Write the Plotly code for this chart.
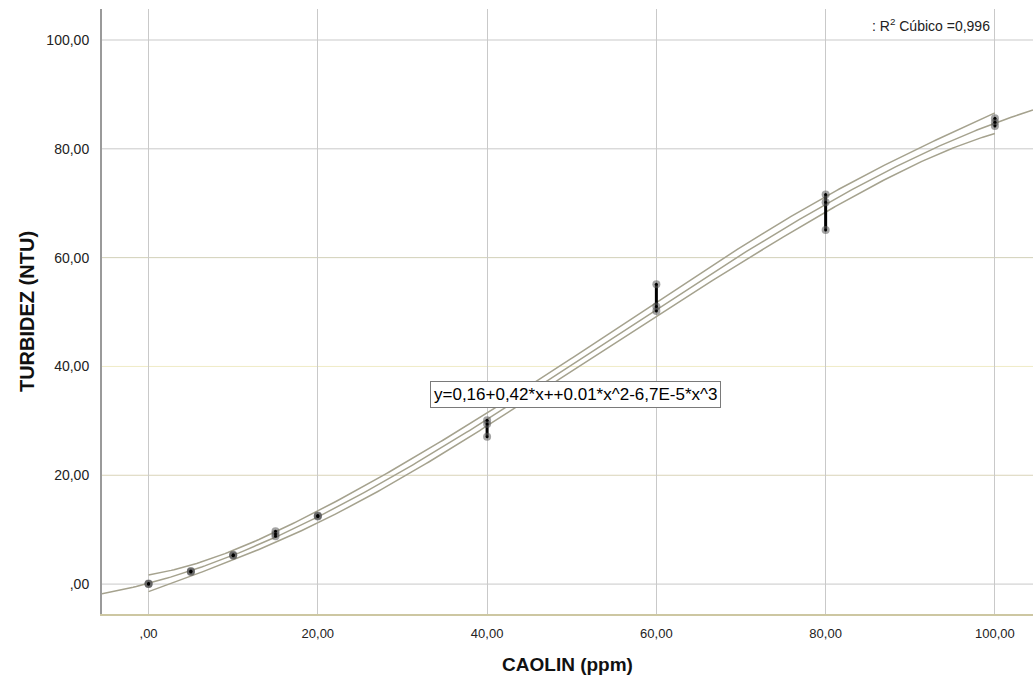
import numpy as np
import plotly.graph_objects as go

# Replicate turbidity readings at each kaolin concentration
caolin_ppm = [0, 0, 0, 5, 5, 5, 10, 10, 10, 15, 15, 15, 20, 20, 20,
              40, 40, 40, 60, 60, 60, 80, 80, 80, 100, 100, 100]
turbidez_ntu = [0.0, 0.1, 0.0, 2.3, 2.4, 2.2, 5.3, 5.4, 5.2, 9.7, 9.2, 8.8,
                12.4, 12.6, 12.5, 30.1, 29.4, 27.1, 55.1, 51.0, 50.2,
                71.6, 70.2, 65.1, 85.6, 84.9, 84.2]

x_tick_vals = [0, 20, 40, 60, 80, 100]
x_tick_text = [",00", "20,00", "40,00", "60,00", "80,00", "100,00"]
y_tick_vals = [0, 20, 40, 60, 80, 100]
y_tick_text = [",00", "20,00", "40,00", "60,00", "80,00", "100,00"]
y_grid_colors = ["#c9c9c9", "#d9d3b8", "#f0ebc6", "#d2d0b8", "#c9c9c9", "#c9c9c9"]

equation_text = "y=0,16+0,42*x++0.01*x^2-6,7E-5*x^3"
r2_text = ": R<sup>2</sup> Cúbico =0,996"

x_range = [-5.5, 104.5]
y_range = [-5.5, 105.7]
t_crit = 2.069  # t(0.975, df=23)

# Cubic least-squares fit and 95% confidence band for the mean
x = np.array(caolin_ppm, dtype=float)
y = np.array(turbidez_ntu, dtype=float)
X = np.vander(x, 4, increasing=True)
beta, *_ = np.linalg.lstsq(X, y, rcond=None)
resid = y - X @ beta
s2 = resid @ resid / (len(x) - 4)
cov = s2 * np.linalg.inv(X.T @ X)

xf = np.linspace(x_range[0], x_range[1], 300)
yf = np.vander(xf, 4, increasing=True) @ beta

xb = np.linspace(x.min(), x.max(), 300)
Xb = np.vander(xb, 4, increasing=True)
yb = Xb @ beta
se = np.sqrt(np.einsum("ij,jk,ik->i", Xb, cov, Xb))
upper = yb + t_crit * se
lower = yb - t_crit * se

line_col = "#a5a28e"
fig = go.Figure()
fig.add_trace(go.Scatter(x=xb, y=upper, mode="lines", line=dict(color=line_col, width=1.5), hoverinfo="skip"))
fig.add_trace(go.Scatter(x=xb, y=lower, mode="lines", line=dict(color=line_col, width=1.5), hoverinfo="skip"))
fig.add_trace(go.Scatter(x=xf, y=yf, mode="lines", line=dict(color=line_col, width=1.5), hoverinfo="skip"))

# Vertical bars spanning replicates at each concentration
bx, by = [], []
for lvl in sorted(set(caolin_ppm)):
    vals = [v for c, v in zip(caolin_ppm, turbidez_ntu) if c == lvl]
    bx += [lvl, lvl, None]
    by += [min(vals), max(vals), None]
fig.add_trace(go.Scatter(x=bx, y=by, mode="lines", line=dict(color="black", width=3), hoverinfo="skip"))

fig.add_trace(go.Scatter(x=caolin_ppm, y=turbidez_ntu, mode="markers",
                         marker=dict(size=8, color="rgba(90,90,90,0.55)", line=dict(width=0))))
fig.add_trace(go.Scatter(x=caolin_ppm, y=turbidez_ntu, mode="markers",
                         marker=dict(size=3, color="black", line=dict(width=0))))

for val, col in zip(y_tick_vals, y_grid_colors):
    fig.add_shape(type="line", xref="paper", x0=0, x1=1, yref="y", y0=val, y1=val,
                  line=dict(color=col, width=1), layer="below")

fig.add_annotation(x=50.4, y=34.9, text=equation_text, showarrow=False,
                   font=dict(family="Liberation Sans, Arial", size=17, color="black"),
                   bgcolor="white", bordercolor="#7a7a7a", borderwidth=1, borderpad=3)
fig.add_annotation(x=99.6, y=102.8, text=r2_text, showarrow=False, xanchor="right",
                   font=dict(family="Liberation Sans, Arial", size=14, color="#222"))

title_font = "Liberation Sans Narrow, Arial Narrow, Liberation Sans, Arial"
fig.update_layout(
    width=1033, height=683,
    margin=dict(l=102, r=0, t=9, b=69),
    paper_bgcolor="white", plot_bgcolor="white",
    showlegend=False,
    xaxis=dict(range=x_range, tickvals=x_tick_vals, ticktext=x_tick_text,
               showgrid=True, gridcolor="#c9c9c9", gridwidth=1, zeroline=False,
               showline=True, linecolor="#cdc7a2", linewidth=2,
               ticks="", ticklen=0, ticklabelstandoff=6,
               tickfont=dict(family="Liberation Sans, Arial", size=13, color="#222"),
               title=dict(text="<b>CAOLIN (ppm)</b>", standoff=18,
                          font=dict(family=title_font, size=19, color="#111"))),
    yaxis=dict(range=y_range, tickvals=y_tick_vals, ticktext=y_tick_text,
               showgrid=False, zeroline=False,
               showline=True, linecolor="#9a9a9a", linewidth=2,
               ticks="", ticklen=0, ticklabelstandoff=8,
               tickfont=dict(family="Liberation Sans, Arial", size=14, color="#222"),
               title=dict(text="<b>TURBIDEZ (NTU)</b>", standoff=6,
                          font=dict(family=title_font, size=20, color="#111"))),
)

fig.write_html("out.html")
